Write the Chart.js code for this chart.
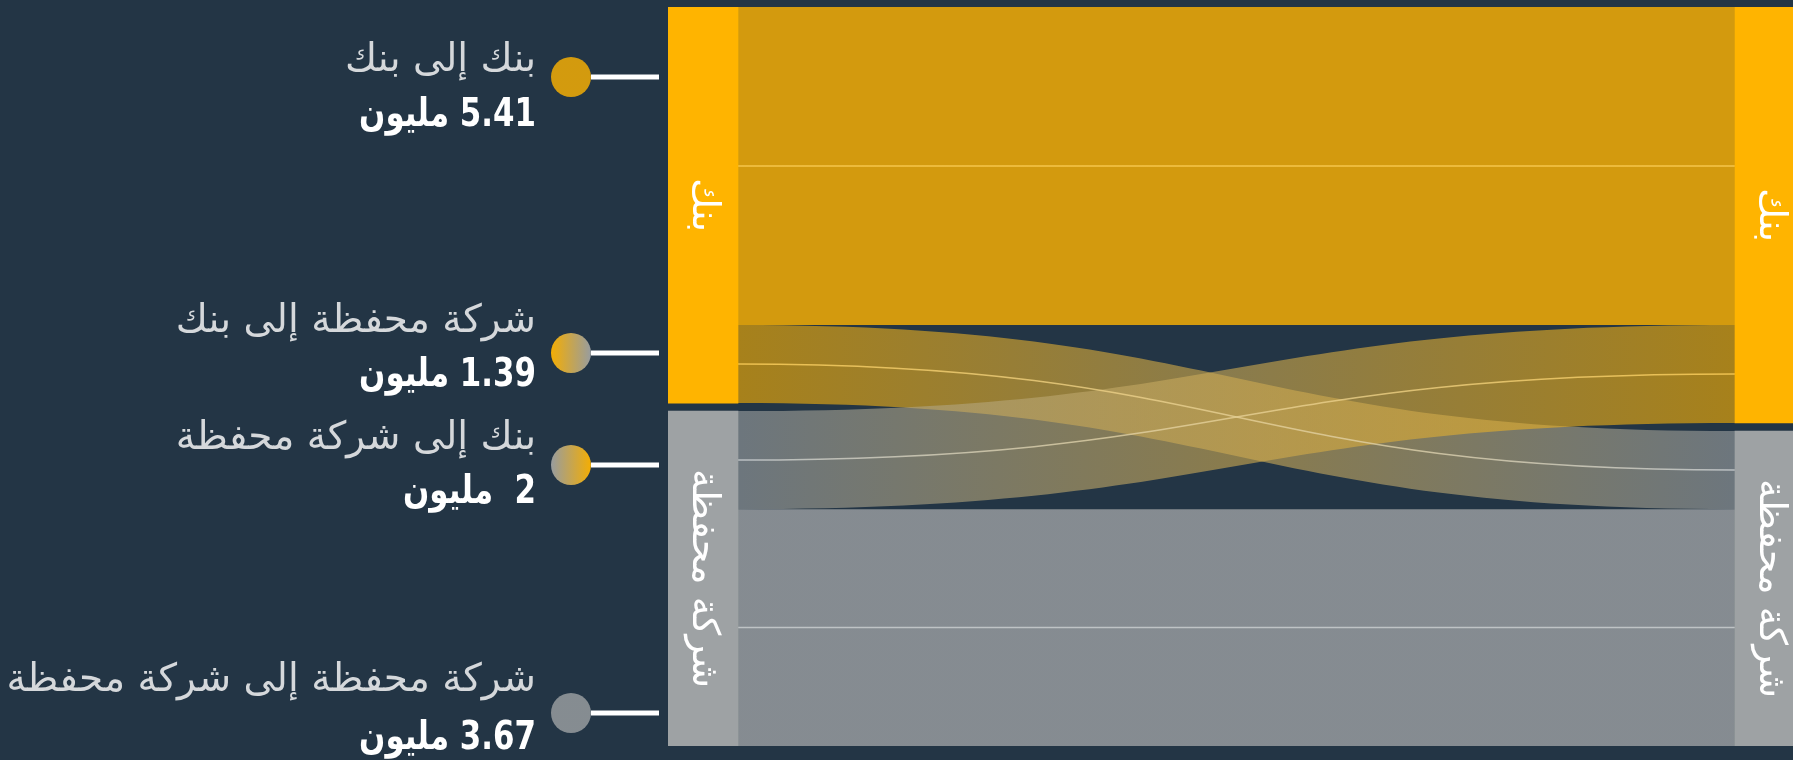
<!DOCTYPE html>
<html>
<head>
<meta charset="utf-8">
<script src="https://cdn.jsdelivr.net/npm/chart.js@4.4.1/dist/chart.umd.min.js"></script>
<style>
  html, body { margin: 0; padding: 0; background: #233545; }
  #sankey { display: block; }
</style>
</head>
<body>
<canvas id="sankey" width="1793" height="760"></canvas>
<script>
// nodes and flows (band sizes, labels as printed)
const nodeNames = ["بنك", "شركة محفظة"];
const nodeColors = ["#ffb400", "#9ea2a4"];
const flowFrom = [0, 0, 1, 1];
const flowTo = [0, 1, 0, 1];
const flowValues = [5.41, 1.33, 1.67, 4.03];
const flowTitles = ["بنك إلى بنك", "شركة محفظة إلى بنك", "بنك إلى شركة محفظة", "شركة محفظة إلى شركة محفظة"];
const flowAmounts = ["5.41 مليون", "1.39 مليون", "2  مليون", "3.67 مليون"];

const nodePad = 0.136; // gap between stacked nodes, in value units
const total = flowValues.reduce((a, b) => a + b, 0);

function hexA(hex, a) {
  const n = parseInt(hex.slice(1), 16);
  return "rgba(" + (n >> 16) + "," + ((n >> 8) & 255) + "," + (n & 255) + "," + a + ")";
}

// stack nodes in each column and place flow ends inside them
function buildLayout() {
  const ranges = [[], []];
  [flowFrom, flowTo].forEach((side, col) => {
    let start = 0;
    nodeNames.forEach((name, i) => {
      let size = 0;
      flowValues.forEach((v, f) => { if (side[f] === i) size += v; });
      ranges[col].push([start, start + size]);
      start += size + nodePad;
    });
  });
  const cursor = [ranges[0].map(r => r[0]), ranges[1].map(r => r[0])];
  const ends = flowValues.map((v, f) => {
    const s = cursor[0][flowFrom[f]];
    cursor[0][flowFrom[f]] += v;
    const t = cursor[1][flowTo[f]];
    cursor[1][flowTo[f]] += v;
    return { s0: s, s1: s + v, t0: t, t1: t + v };
  });
  return { ranges, ends };
}
const sankey = buildLayout();

const flowPlugin = {
  id: "flows",
  beforeDatasetsDraw(chart) {
    const ctx = chart.ctx;
    const y = chart.scales.y;
    const leftBar = chart.getDatasetMeta(0).data[0];
    const rightBar = chart.getDatasetMeta(0).data[1];
    const x0 = leftBar.x + leftBar.width / 2;
    const x1 = rightBar.x - rightBar.width / 2;
    const xm = (x0 + x1) / 2;
    ctx.save();
    sankey.ends.forEach((e, f) => {
      const a = flowFrom[f] === flowTo[f] ? 0.8 : 0.6;
      const sy0 = y.getPixelForValue(e.s0), sy1 = y.getPixelForValue(e.s1);
      const ty0 = y.getPixelForValue(e.t0), ty1 = y.getPixelForValue(e.t1);
      const grad = ctx.createLinearGradient(x0, 0, x1, 0);
      grad.addColorStop(0, hexA(nodeColors[flowFrom[f]], a));
      grad.addColorStop(1, hexA(nodeColors[flowTo[f]], a));
      ctx.beginPath();
      ctx.moveTo(x0, sy0);
      ctx.bezierCurveTo(xm, sy0, xm, ty0, x1, ty0);
      ctx.lineTo(x1, ty1);
      ctx.bezierCurveTo(xm, ty1, xm, sy1, x0, sy1);
      ctx.closePath();
      ctx.fillStyle = grad;
      ctx.fill();
    });
    // thin centre lines
    const light = ["rgba(255,208,90,0.8)", "rgba(205,209,211,0.8)"];
    sankey.ends.forEach((e, f) => {
      const sy = y.getPixelForValue((e.s0 + e.s1) / 2);
      const ty = y.getPixelForValue((e.t0 + e.t1) / 2);
      const grad = ctx.createLinearGradient(x0, 0, x1, 0);
      grad.addColorStop(0, light[flowFrom[f]]);
      grad.addColorStop(1, light[flowTo[f]]);
      ctx.beginPath();
      ctx.moveTo(x0, sy);
      ctx.bezierCurveTo(xm, sy, xm, ty, x1, ty);
      ctx.strokeStyle = grad;
      ctx.lineWidth = 1.5;
      ctx.stroke();
    });
    ctx.restore();
  },
  afterDraw(chart) {
    const ctx = chart.ctx;
    ctx.save();
    // node names, turned on their side
    chart.data.datasets.forEach((ds, i) => {
      chart.getDatasetMeta(i).data.forEach(bar => {
        ctx.save();
        ctx.translate(bar.x, (bar.y + bar.base) / 2);
        ctx.rotate(Math.PI / 2);
        ctx.direction = "rtl";
        ctx.font = "38px 'DejaVu Sans'";
        ctx.fillStyle = "#ffffff";
        ctx.textAlign = "center";
        ctx.textBaseline = "middle";
        ctx.fillText(nodeNames[i], 0, 0);
        ctx.restore();
      });
    });
    // left-hand callouts
    const markY = [77, 353, 465, 713];
    const titleY = [71, 332, 449, 691];
    const amountY = [126, 386, 503, 749];
    const textRight = 536;
    const lineEnd = chart.chartArea.left - 9;
    flowTitles.forEach((t, k) => {
      const cx = 571, cy = markY[k], r = 20;
      const a = flowFrom[k] === flowTo[k] ? 0.8 : 0.95;
      const grad = ctx.createLinearGradient(cx - r, 0, cx + r, 0);
      grad.addColorStop(0, hexA(nodeColors[flowFrom[k]], a));
      grad.addColorStop(1, hexA(nodeColors[flowTo[k]], a));
      ctx.fillStyle = "#233545";
      ctx.beginPath();
      ctx.arc(cx, cy, r, 0, Math.PI * 2);
      ctx.fill();
      ctx.fillStyle = grad;
      ctx.fill();
      ctx.fillStyle = "#ffffff";
      ctx.fillRect(cx + r, cy - 2.5, lineEnd - cx - r, 5);

      ctx.direction = "rtl";
      ctx.textAlign = "right";
      ctx.textBaseline = "alphabetic";
      ctx.font = "39px 'DejaVu Sans'";
      ctx.fillStyle = "#d5d8db";
      ctx.fillText(t, textRight, titleY[k]);
      // amounts are tall and narrow in the original
      ctx.save();
      ctx.translate(textRight, amountY[k]);
      ctx.scale(0.88, 1);
      ctx.font = "bold 39px 'DejaVu Sans Condensed'";
      ctx.fillStyle = "#ffffff";
      ctx.fillText(flowAmounts[k], 0, 0);
      ctx.restore();
    });
    ctx.restore();
  }
};

const ctx = document.getElementById("sankey").getContext("2d");
new Chart(ctx, {
  type: "bar",
  data: {
    datasets: nodeNames.map((name, i) => ({
      label: name,
      data: [
        { x: 0, y: sankey.ranges[0][i] },
        { x: 1, y: sankey.ranges[1][i] }
      ],
      backgroundColor: nodeColors[i],
      borderWidth: 0,
      barThickness: 70,
      grouped: false
    }))
  },
  options: {
    responsive: false,
    devicePixelRatio: 1,
    animation: false,
    layout: { padding: { left: 668, top: 7, right: 0, bottom: 14 } },
    scales: {
      x: { type: "linear", min: -0.0328, max: 1.0216, offset: false, display: false },
      y: { min: 0, max: total + nodePad, reverse: true, display: false }
    },
    plugins: { legend: { display: false }, tooltip: { enabled: false } }
  },
  plugins: [flowPlugin]
});
</script>
</body>
</html>
